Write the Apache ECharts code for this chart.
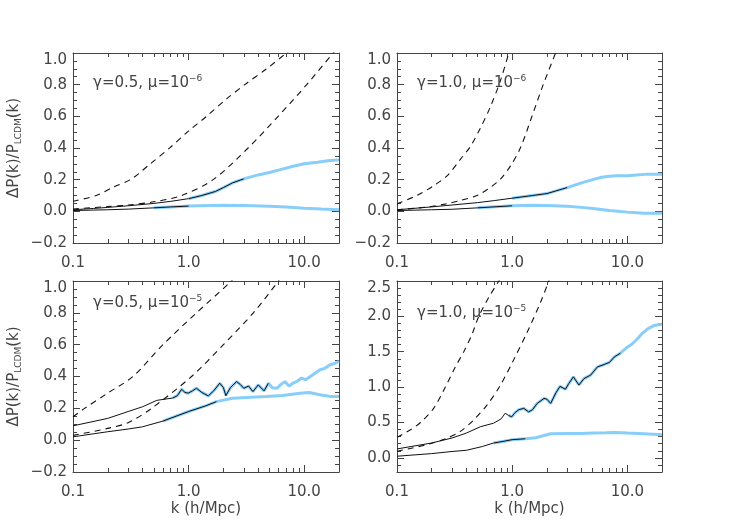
<!DOCTYPE html>
<html>
<head>
<meta charset="utf-8">
<script src="https://cdn.jsdelivr.net/npm/echarts@6/dist/echarts.min.js"></script>
<style>
  html, body { margin: 0; background: #fff; }
  #chart { width: 735px; height: 525px; }
</style>
</head>
<body>
<div id="chart"></div>
<script>
// tick positions
var kMajor = [0.1, 1, 10];
var kMinor = [0.2, 0.3, 0.4, 0.5, 0.6, 0.7, 0.8, 0.9, 2, 3, 4, 5, 6, 7, 8, 9, 20];
var yMajorA = [-0.2, 0, 0.2, 0.4, 0.6, 0.8, 1.0];
var yMajorB = [0, 0.5, 1.0, 1.5, 2.0, 2.5];

// panel 1: gamma=0.5, mu=1e-6
var p1DashHiK = [0.1, 0.159, 0.222, 0.32, 0.461, 0.687, 0.99, 1.43, 2.13, 3.06, 4.72, 7.03, 9];
var p1DashHi  = [0.064, 0.1, 0.152, 0.204, 0.297, 0.401, 0.505, 0.6, 0.71, 0.8, 0.9, 1.0, 1.06];
var p1DashLoK = [0.1, 0.2, 0.3, 0.5, 0.87, 1.63, 3.27, 5.95, 10.5, 17.8, 20];
var p1DashLo  = [0.015, 0.03, 0.04, 0.06, 0.1, 0.2, 0.4, 0.6, 0.8, 1.0, 1.04];
var p1UpK = [0.1, 0.15, 0.2, 0.3, 0.5, 0.7, 1, 1.3, 1.7, 2, 2.4, 3, 4, 5, 6, 8, 10, 13, 16, 20];
var p1Up  = [0.01, 0.018, 0.025, 0.035, 0.05, 0.063, 0.08, 0.1, 0.125, 0.15, 0.18, 0.205, 0.23, 0.245, 0.26, 0.285, 0.3, 0.31, 0.32, 0.325];
var p1LoK = [0.1, 0.2, 0.3, 0.5, 0.7, 1, 1.5, 2, 3, 5, 7, 10, 14, 20];
var p1Lo  = [0.005, 0.01, 0.014, 0.022, 0.028, 0.033, 0.037, 0.038, 0.037, 0.032, 0.027, 0.02, 0.015, 0.01];

// panel 2: gamma=1.0, mu=1e-6
var p2DashHiK = [0.1, 0.149, 0.208, 0.272, 0.355, 0.434, 0.53, 0.648, 0.792, 0.935, 1.0];
var p2DashHi  = [0.048, 0.1, 0.162, 0.224, 0.328, 0.41, 0.526, 0.661, 0.827, 1.0, 1.08];
var p2DashLoK = [0.1, 0.182, 0.272, 0.355, 0.496, 0.648, 0.792, 0.968, 1.18, 1.49, 1.86, 2.38, 2.6];
var p2DashLo  = [0.01, 0.027, 0.048, 0.069, 0.1, 0.152, 0.204, 0.287, 0.401, 0.603, 0.8, 1.0, 1.08];
var p2UpK = [0.1, 0.2, 0.3, 0.5, 0.7, 1, 1.5, 2, 3, 4, 5, 6, 7, 8, 10, 12, 15, 20];
var p2Up  = [0.01, 0.028, 0.04, 0.055, 0.068, 0.083, 0.1, 0.112, 0.15, 0.18, 0.2, 0.215, 0.222, 0.225, 0.225, 0.23, 0.235, 0.235];
var p2LoK = [0.1, 0.2, 0.3, 0.5, 1, 1.5, 2, 3, 4, 5, 7, 10, 14, 20];
var p2Lo  = [0.005, 0.01, 0.013, 0.022, 0.035, 0.038, 0.037, 0.032, 0.025, 0.018, 0.005, -0.005, -0.012, -0.012];

// panel 3: gamma=0.5, mu=1e-5
var p3DashHiK = [0.1, 0.126, 0.2, 0.33, 0.6, 1.17, 2.35, 2.6];
var p3DashHi  = [0.147, 0.2, 0.296, 0.4, 0.6, 0.8, 1.0, 1.04];
var p3DashLoK = [0.1, 0.2, 0.3, 0.478, 1.06, 2.0, 3.63, 5.99, 7];
var p3DashLo  = [0.03, 0.074, 0.11, 0.2, 0.4, 0.6, 0.8, 1.0, 1.07];
var p3UpK = [0.1, 0.2, 0.3, 0.4, 0.53, 0.73, 0.8, 0.87, 0.93, 0.99, 1.08, 1.17, 1.3, 1.48, 1.65, 1.86, 2.0, 2.1, 2.3, 2.6, 2.8, 3.0, 3.3, 3.6, 4.0, 4.5, 4.9, 5.3, 5.8, 6.3, 6.8, 7.4, 8.0, 8.7, 9.5, 10.3, 11.3, 12.4, 13.7, 15, 16.7, 18, 20];
var p3Up  = [0.09, 0.137, 0.18, 0.21, 0.25, 0.265, 0.28, 0.32, 0.3, 0.295, 0.31, 0.326, 0.3, 0.278, 0.31, 0.358, 0.33, 0.28, 0.33, 0.368, 0.35, 0.326, 0.34, 0.305, 0.347, 0.31, 0.358, 0.33, 0.326, 0.35, 0.368, 0.34, 0.358, 0.37, 0.39, 0.38, 0.4, 0.42, 0.442, 0.45, 0.474, 0.48, 0.495];
var p3LoK = [0.1, 0.2, 0.3, 0.4, 0.6, 1.0, 1.4, 1.74, 2.4, 3.5, 4.7, 6.5, 9.2, 11, 14, 17, 20];
var p3Lo  = [0.021, 0.053, 0.07, 0.084, 0.12, 0.18, 0.215, 0.242, 0.263, 0.27, 0.274, 0.28, 0.295, 0.3, 0.284, 0.275, 0.274];

// panel 4: gamma=1.0, mu=1e-5
var p4DashHiK = [0.1, 0.131, 0.16, 0.208, 0.263, 0.321, 0.38, 0.449, 0.513, 0.627, 0.766, 0.819];
var p4DashHi  = [0.29, 0.397, 0.5, 0.7, 1.0, 1.285, 1.5, 1.75, 2.0, 2.27, 2.5, 2.59];
var p4DashLoK = [0.1, 0.182, 0.272, 0.355, 0.464, 0.606, 0.792, 1.03, 1.35, 1.76, 2.08, 2.2];
var p4DashLo  = [0.093, 0.187, 0.28, 0.374, 0.537, 0.748, 1.03, 1.385, 1.776, 2.196, 2.5, 2.62];
var p4UpK = [0.1, 0.2, 0.3, 0.4, 0.53, 0.69, 0.8, 0.87, 0.93, 0.99, 1.06, 1.14, 1.26, 1.39, 1.5, 1.65, 1.89, 2.0, 2.16, 2.4, 2.6, 2.9, 3.1, 3.4, 3.8, 4.2, 4.8, 5.5, 6.3, 7.0, 7.7, 8.7, 10, 11, 12.2, 13.5, 14.9, 17, 20];
var p4Up  = [0.126, 0.21, 0.28, 0.35, 0.44, 0.49, 0.55, 0.63, 0.6, 0.58, 0.64, 0.68, 0.70, 0.65, 0.68, 0.77, 0.84, 0.83, 0.77, 0.92, 1.01, 0.97, 1.05, 1.145, 1.03, 1.12, 1.17, 1.285, 1.32, 1.35, 1.425, 1.48, 1.565, 1.61, 1.68, 1.76, 1.82, 1.87, 1.89];
var p4LoK = [0.1, 0.2, 0.3, 0.4, 0.55, 0.69, 0.85, 1.0, 1.3, 1.6, 2.16, 3, 4, 5.1, 6.5, 7.7, 10, 13.9, 20];
var p4Lo  = [0.023, 0.06, 0.09, 0.107, 0.16, 0.21, 0.235, 0.257, 0.27, 0.285, 0.34, 0.345, 0.345, 0.35, 0.355, 0.36, 0.35, 0.34, 0.327];

var FONT = 'DejaVu Sans';
var INK = '#444';
var BLUE = '#87cefa';

var panels = [
  { grid: {left: 73, top: 53, width: 266, height: 190}, yMax: 1.0, yMajor: yMajorA, yMinor: 0.05,
    note: '{n|γ=0.5, μ=10}{s|−6}', noteAt: [93, 83], leftTitle: true, bottomTitle: false,
    dashed: [[p1DashHiK, p1DashHi], [p1DashLoK, p1DashLo]],
    solid: [{k: p1UpK, v: p1Up, blueFrom: 0.9, blackTo: 3}, {k: p1LoK, v: p1Lo, blueFrom: 0.4, blackTo: 1}] },
  { grid: {left: 397, top: 53, width: 265, height: 190}, yMax: 1.0, yMajor: yMajorA, yMinor: 0.05,
    note: '{n|γ=1.0, μ=10}{s|−6}', noteAt: [417, 83], leftTitle: false, bottomTitle: false,
    dashed: [[p2DashHiK, p2DashHi], [p2DashLoK, p2DashLo]],
    solid: [{k: p2UpK, v: p2Up, blueFrom: 0.9, blackTo: 3}, {k: p2LoK, v: p2Lo, blueFrom: 0.4, blackTo: 1}] },
  { grid: {left: 73, top: 281, width: 266, height: 191}, yMax: 1.0, yMajor: yMajorA, yMinor: 0.05,
    note: '{n|γ=0.5, μ=10}{s|−5}', noteAt: [93, 303], leftTitle: true, bottomTitle: true,
    dashed: [[p3DashHiK, p3DashHi], [p3DashLoK, p3DashLo]],
    solid: [{k: p3UpK, v: p3Up, blueFrom: 0.7, blackTo: 5}, {k: p3LoK, v: p3Lo, blueFrom: 0.5, blackTo: 2}] },
  { grid: {left: 397, top: 281, width: 265, height: 191}, yMax: 2.5, yMajor: yMajorB, yMinor: 0.1,
    note: '{n|γ=1.0, μ=10}{s|−5}', noteAt: [417, 313], leftTitle: false, bottomTitle: true,
    dashed: [[p4DashHiK, p4DashHi], [p4DashLoK, p4DashLo]],
    solid: [{k: p4UpK, v: p4Up, blueFrom: 0.9, blackTo: 9}, {k: p4LoK, v: p4Lo, blueFrom: 0.6, blackTo: 1.5}] }
];

function fmt(v) {
  return (v < 0 ? '\u2212' : '') + Math.abs(v).toFixed(1);
}

function pairs(ks, vs, lo, hi) {
  var out = [];
  for (var i = 0; i < ks.length; i++) {
    if (ks[i] >= lo && ks[i] <= hi) out.push([ks[i], vs[i]]);
  }
  return out;
}

var labelStyle = {color: INK, fontFamily: FONT, fontSize: 15};

var grids = [], xAxes = [], yAxes = [], series = [], graphics = [];

panels.forEach(function (p, i) {
  grids.push(p.grid);

  // x axes: bottom major, bottom minor, top major, top minor
  ['bottom', 'top'].forEach(function (pos) {
    var main = pos === 'bottom';
    xAxes.push({
      gridIndex: i, type: 'log', logBase: 10, min: 0.1, max: 20, position: pos,
      axisLine: {show: true, onZero: false, lineStyle: {color: INK, width: 1}},
      axisTick: {inside: true, length: 7, customValues: kMajor, lineStyle: {color: INK}},
      axisLabel: main ? Object.assign({customValues: kMajor, formatter: fmt, margin: 13}, labelStyle) : {show: false},
      splitLine: {show: false},
      name: main && p.bottomTitle ? 'k (h/Mpc)' : '',
      nameLocation: 'middle', nameGap: 30,
      nameTextStyle: labelStyle
    });
    xAxes.push({
      gridIndex: i, type: 'log', logBase: 10, min: 0.1, max: 20, position: pos,
      axisLine: {show: false, onZero: false},
      axisTick: {inside: true, length: 4, customValues: kMinor, lineStyle: {color: INK}},
      axisLabel: {show: false},
      splitLine: {show: false}
    });
  });

  // y axes: left major, left minor, right major, right minor
  ['left', 'right'].forEach(function (pos) {
    var main = pos === 'left';
    yAxes.push({
      gridIndex: i, type: 'value', min: -0.2, max: p.yMax, position: pos,
      axisLine: {show: true, onZero: false, lineStyle: {color: INK, width: 1}},
      axisTick: {inside: true, length: 7, customValues: p.yMajor, lineStyle: {color: INK}},
      axisLabel: main ? Object.assign({customValues: p.yMajor, formatter: fmt, margin: 6,
        verticalAlignMaxLabel: 'top'}, labelStyle) : {show: false},
      splitLine: {show: false},
      name: main && p.leftTitle ? '{a|ΔP(k)/P}{b|LCDM}{a|(k)}' : '',
      nameLocation: 'middle', nameRotate: 90, nameGap: 50,
      nameTextStyle: {
        color: INK,
        rich: {
          a: {fontFamily: FONT, fontSize: 15, lineHeight: 18, color: INK},
          b: {fontFamily: FONT, fontSize: 9, lineHeight: 10, verticalAlign: 'bottom', color: INK}
        }
      }
    });
    yAxes.push({
      gridIndex: i, type: 'value', min: -0.2, max: p.yMax, interval: p.yMinor, position: pos,
      axisLine: {show: false, onZero: false},
      axisTick: {inside: true, length: 4, lineStyle: {color: INK}},
      axisLabel: {show: false},
      splitLine: {show: false}
    });
  });

  var xi = i * 4, yi = i * 4;

  p.dashed.forEach(function (d) {
    series.push({
      type: 'line', xAxisIndex: xi, yAxisIndex: yi, data: pairs(d[0], d[1], 0, 100),
      showSymbol: false, symbol: 'none', clip: true, z: 3, smooth: 0.3,
      lineStyle: {color: '#111', width: 1.1, type: [6, 5]}
    });
  });

  p.solid.forEach(function (s) {
    series.push({
      type: 'line', xAxisIndex: xi, yAxisIndex: yi, data: pairs(s.k, s.v, s.blueFrom, 100),
      showSymbol: false, symbol: 'none', clip: true, z: 2,
      lineStyle: {color: BLUE, width: 3}
    });
    series.push({
      type: 'line', xAxisIndex: xi, yAxisIndex: yi, data: pairs(s.k, s.v, 0, s.blackTo),
      showSymbol: false, symbol: 'none', clip: true, z: 4,
      lineStyle: {color: '#111', width: 1}
    });
  });

  graphics.push({
    type: 'text', x: p.noteAt[0], y: p.noteAt[1], z: 10,
    style: {
      text: p.note, fill: INK, align: 'left', verticalAlign: 'middle',
      rich: {
        n: {fontFamily: FONT, fontSize: 15, lineHeight: 18, fill: INK},
        s: {fontFamily: FONT, fontSize: 9, lineHeight: 10, verticalAlign: 'top', fill: INK}
      }
    }
  });
});

var chart = echarts.init(document.getElementById('chart'));
chart.setOption({
  animation: false,
  backgroundColor: '#fff',
  grid: grids,
  xAxis: xAxes,
  yAxis: yAxes,
  series: series,
  graphic: graphics
});
</script>
</body>
</html>
